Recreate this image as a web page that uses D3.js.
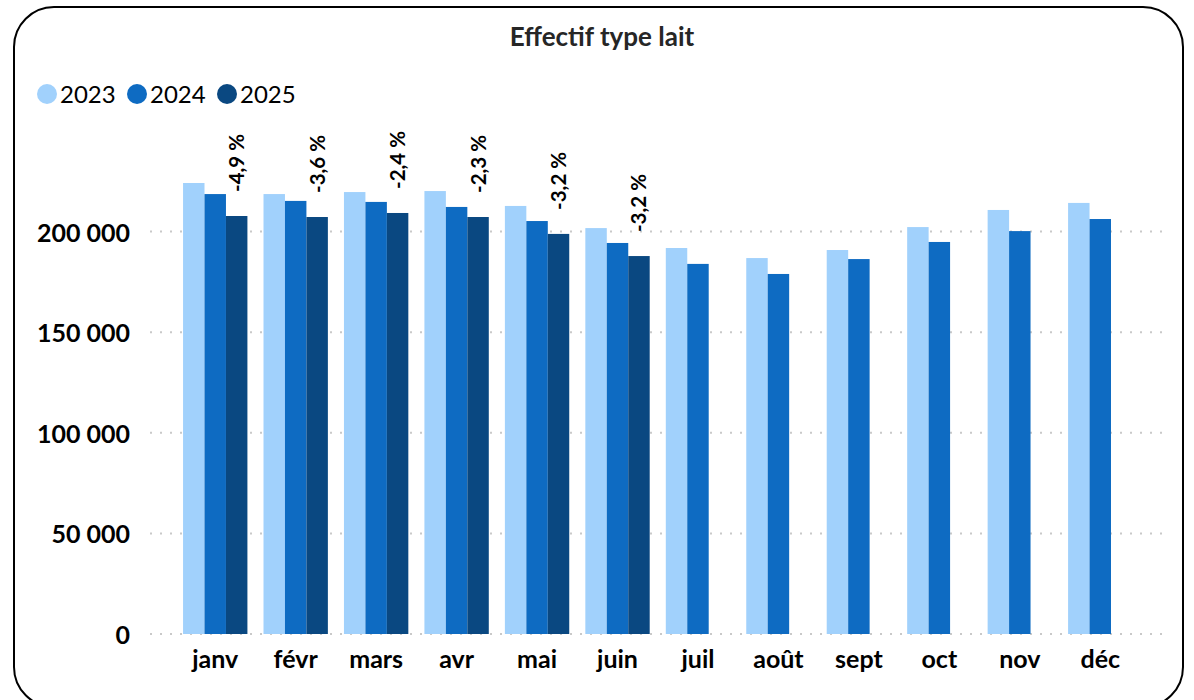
<!DOCTYPE html>
<html><head><meta charset="utf-8">
<script src="https://cdn.jsdelivr.net/npm/d3@7"></script>
<style>body{margin:0;background:#fff}svg{display:block}</style>
</head><body><svg id="c" width="1194" height="700"></svg>
<script>
const months = ["janv","févr","mars","avr","mai","juin","juil","août","sept","oct","nov","déc"];
const series = ["2023","2024","2025"];
const v2023 = [224100,218600,219600,220100,212700,201700,191800,186800,190800,202200,210700,214200];
const v2024 = [218600,215200,214700,212200,205200,194300,183900,178900,186300,194800,200200,206200];
const v2025 = [207700,207200,209200,207200,198800,187800,null,null,null,null,null,null];
const pctLabels = ["-4,9 %","-3,6 %","-2,4 %","-2,3 %","-3,2 %","-3,2 %",null,null,null,null,null,null];
const yTicks = [0,50000,100000,150000,200000];
const colors = ["#A1D1FC","#0E6BC2","#0A4881"];
const title = "Effectif type lait";

const svg = d3.select("#c");
const font = "Lato, 'Open Sans', sans-serif";

svg.append("rect").attr("x",14).attr("y",7).attr("width",1169).attr("height",700)
  .attr("rx",40).attr("ry",40).attr("fill","#fff").attr("stroke","#000").attr("stroke-width",2);

svg.append("text").attr("x",602).attr("y",46).attr("text-anchor","middle")
  .attr("font-family",font).attr("font-weight","bold").attr("font-size",26).attr("fill","#262626").text(title);

const y = d3.scaleLinear().domain([0,200000]).range([634,231.5]);
const x = d3.scaleBand().domain(months).range([175,1140.5]).paddingInner(0.2).paddingOuter(0.1);
const xs = d3.scaleBand().domain(series).range([0,x.bandwidth()]);

// gridlines
svg.append("g").selectAll("line").data(yTicks).join("line")
  .attr("x1",150).attr("x2",1164).attr("y1",d=>y(d)).attr("y2",d=>y(d))
  .attr("stroke","#C9C9C9").attr("stroke-width",2).attr("stroke-dasharray","2,8");

// y axis labels
const yAxis = d3.axisLeft(y).tickValues(yTicks).tickSize(0).tickPadding(0)
  .tickFormat(d=>d3.format(",")(d).replace(/,/g," "));
const ga = svg.append("g").attr("transform","translate(130,0)").call(yAxis);
ga.select(".domain").remove();
ga.selectAll("text").attr("font-family",font).attr("font-weight","bold").attr("font-size",25).attr("fill","#000").attr("dy",null).attr("y",9.5);

// x axis labels
const xAxis = d3.axisBottom(x).tickSize(0).tickPadding(0);
const gx = svg.append("g").attr("transform","translate(0,0)").call(xAxis);
gx.select(".domain").remove();
gx.selectAll("text").attr("font-family",font).attr("font-weight","bold").attr("font-size",25).attr("fill","#000").attr("dy",null).attr("y",668);

// bars
const data = [v2023,v2024,v2025];
series.forEach((s,i)=>{
  svg.append("g").selectAll("rect").data(months.map((m,j)=>({m,v:data[i][j]})).filter(d=>d.v!=null))
    .join("rect").attr("x",d=>x(d.m)+xs(s)).attr("width",xs.bandwidth())
    .attr("y",d=>y(d.v)).attr("height",d=>y(0)-y(d.v)).attr("fill",colors[i]);
});

// percent labels
svg.append("g").selectAll("text").data(months.map((m,j)=>({m,v:v2025[j],t:pctLabels[j]})).filter(d=>d.t))
  .join("text")
  .attr("transform",d=>`translate(${x(d.m)+xs("2025")+xs.bandwidth()/2+7.5},${y(d.v)-24}) rotate(-90)`)
  .attr("font-family",font).attr("font-weight","bold").attr("font-size",20.5).attr("fill","#000").text(d=>d.t);

// legend
const leg = svg.append("g");
const lx = [47,137,227];
series.forEach((s,i)=>{
  leg.append("circle").attr("cx",lx[i]).attr("cy",94).attr("r",10).attr("fill",colors[i]);
  leg.append("text").attr("x",lx[i]+13).attr("y",102.5)
    .attr("font-family",font).attr("font-size",24).attr("fill","#000").text(s);
});
</script></body></html>
